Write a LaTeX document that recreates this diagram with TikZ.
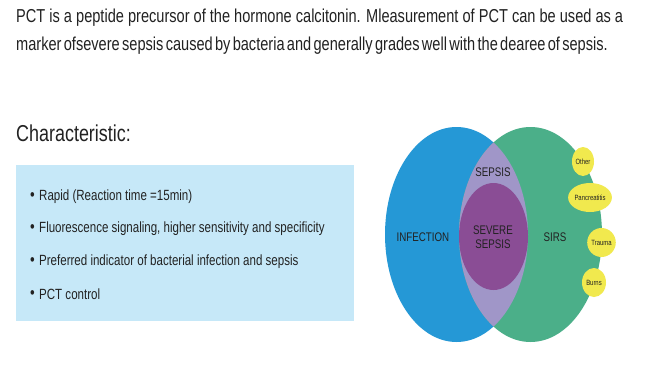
\documentclass[tikz,border=0pt]{standalone}
\usepackage{fontspec}
\setmainfont{Liberation Sans}[FakeStretch=0.78]
\usepackage{tikz}
\usetikzlibrary{shapes.geometric,positioning}
\definecolor{infblue}{HTML}{2598D6}
\definecolor{sirsgreen}{HTML}{4BAF89}
\definecolor{lavender}{HTML}{A096C8}
\definecolor{severe}{HTML}{8A4D95}
\definecolor{tagyellow}{HTML}{F1E94E}
\definecolor{panelblue}{HTML}{C6E8F8}
\definecolor{ink}{HTML}{222222}
\tikzset{
  panel/.style={fill=panelblue, draw=none},
  item/.style={anchor=west, font=\fontsize{14.8}{16}\selectfont, text=ink, inner sep=0pt},
  venntext/.style={align=center, font=\fontsize{12.5}{14}\selectfont, text=ink, inner sep=0pt},
  tag/.style={ellipse, fill=tagyellow, inner sep=0pt, minimum height=29pt, font=\fontsize{7.6}{8}\selectfont, text=ink}
}
\newcommand{\dotmark}{\makebox[9pt][l]{\raisebox{0.5pt}{\fontsize{17}{17}\selectfont\textbullet}}}

\begin{document}
\begin{tikzpicture}[x=1pt, y=-1pt]
  \useasboundingbox[fill=white] (0,0) rectangle (656,375);

  \node[anchor=west, align=left, inner sep=0pt, text=ink, font=\fontsize{18.7}{28}\selectfont] (intro) at (16,32)
    {PCT is a peptide precursor of the hormone calcitonin. Mleasurement of PCT can be used as a\\
     {\spaceskip=2.3pt marker ofsevere sepsis caused by bacteria and generally grades well with the dearee of sepsis.}};
  \node[anchor=west, inner sep=0pt, text=ink, font=\fontsize{23}{26}\selectfont] (heading) at (16,133) {Characteristic:};

  \fill[panel] (16,165) rectangle (354,321);
  \node[item] (rapid) at (30,197) {\dotmark Rapid (Reaction time =15min)};
  \node[item] (fluor) at (30,229) {\dotmark Fluorescence signaling, higher sensitivity and specificity};
  \node[item] (preferred) at (30,262) {\dotmark Preferred indicator of bacterial infection and sepsis};
  \node[item] (control) at (30,294) {\dotmark PCT control};

  % venn
  \fill[infblue] (456.5,234.5) ellipse (71.5 and 107.5);
  \fill[sirsgreen] (530.5,234.5) ellipse (71.5 and 107.5);
  \begin{scope}
    \clip (456.5,234.5) ellipse (71.5 and 107.5);
    \fill[lavender] (530.5,234.5) ellipse (71.5 and 107.5);
  \end{scope}
  \fill[severe] (493.5,236.5) ellipse (34.5 and 53.5);

  \node[venntext] (infection) at (423,237) {INFECTION};
  \node[venntext] (sepsis) at (493,172) {SEPSIS};
  \node[venntext] (severesepsis) at (493,237) {SEVERE\\SEPSIS};
  \node[venntext] (sirs) at (555,237) {SIRS};

  \node[tag, minimum width=22pt] (other) at (583,161.5) {Other};
  \node[tag, minimum width=36pt] (pancreatitis) at (590,197.5) {Pancreatitis};
  \node[tag, minimum width=25pt] (trauma) at (601.5,242.5) {Trauma};
  \node[tag, minimum width=24pt] (burns) at (594,282.5) {Burns};
\end{tikzpicture}
\end{document}
